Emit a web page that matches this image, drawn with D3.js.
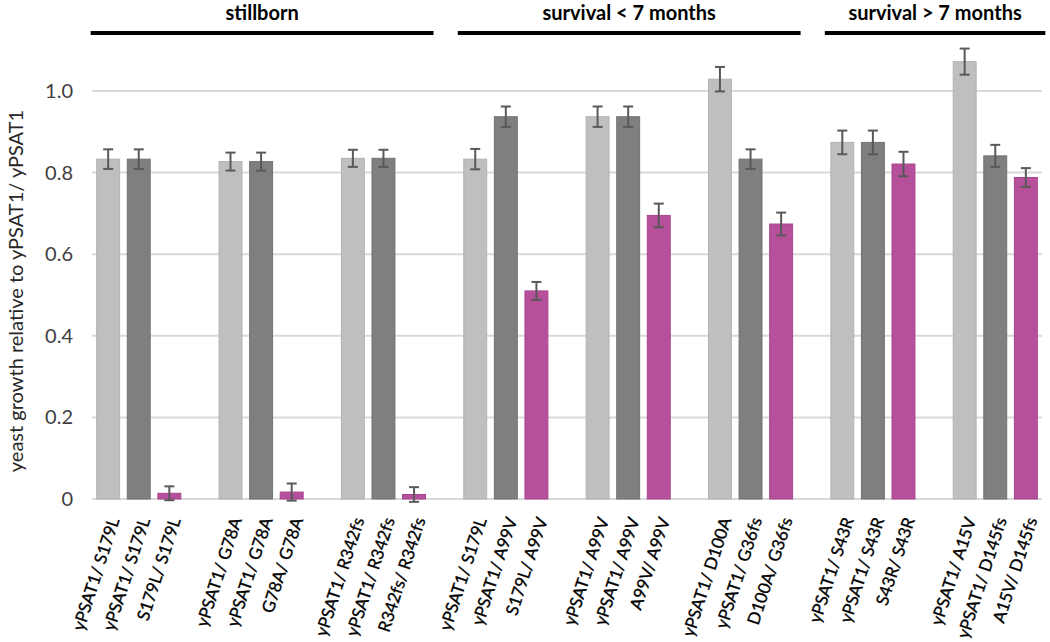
<!DOCTYPE html>
<html><head><meta charset="utf-8">
<script src="https://cdn.jsdelivr.net/npm/d3@7"></script>
<style>
body{margin:0;background:#fff;}
svg text{font-family:Lato,"Open Sans",sans-serif;}
</style></head>
<body><svg id="c" width="1050" height="642"></svg>
<script>
// ---- data ----
const labels = [
 "yPSAT1/ S179L","yPSAT1/ S179L","S179L/ S179L",
 "yPSAT1/ G78A","yPSAT1/ G78A","G78A/ G78A",
 "yPSAT1/ R342fs","yPSAT1/ R342fs","R342fs/ R342fs",
 "yPSAT1/ S179L","yPSAT1/ A99V","S179L/ A99V",
 "yPSAT1/ A99V","yPSAT1/ A99V","A99V/ A99V",
 "yPSAT1/ D100A","yPSAT1/ G36fs","D100A/ G36fs",
 "yPSAT1/ S43R","yPSAT1/ S43R","S43R/ S43R",
 "yPSAT1/ A15V","yPSAT1/ D145fs","A15V/ D145fs"
];
const values = [
 0.833,0.833,0.014,
 0.827,0.827,0.017,
 0.835,0.835,0.011,
 0.833,0.937,0.510,
 0.937,0.937,0.695,
 1.029,0.833,0.674,
 0.874,0.874,0.821,
 1.072,0.841,0.788
];
const errors = [
 0.024,0.024,0.017,
 0.022,0.022,0.021,
 0.021,0.021,0.018,
 0.025,0.025,0.022,
 0.025,0.025,0.029,
 0.030,0.024,0.028,
 0.029,0.029,0.030,
 0.032,0.027,0.023
];
const seriesIdx = [0,1,2]; // light, dark, magenta within each group
const groups = [
 {name:"stillborn", first:0, last:2},
 {name:"survival < 7 months", first:3, last:5},
 {name:"survival > 7 months", first:6, last:7}
];
const yTicks = [0,0.2,0.4,0.6,0.8,1.0];
const colors = ["#bfbfbf","#7f7f7f","#b7509b"];
const strokes = ["#b3b3b3","#737373","#a94590"];

// ---- layout ----
const svg = d3.select("#c");
const left = 92, right = 1042, y0 = 499, y1 = 91;
const slots = labels.map((d,i)=> Math.floor(i/3)*4 + (i%3));
const x = d3.scaleBand().domain(d3.range(31)).range([left,right]).paddingInner(0.25).paddingOuter(0.153);
const y = d3.scaleLinear().domain([0,1]).range([y0,y1]);
const bw = x.bandwidth();

// gridlines
svg.append("g").selectAll("line").data(yTicks).join("line")
  .attr("x1",left).attr("x2",right)
  .attr("y1",d=>y(d)).attr("y2",d=>y(d))
  .attr("stroke","#d9d9d9").attr("stroke-width",2);

// y axis labels
const yAxis = d3.axisLeft(y).tickValues(yTicks).tickSize(0).tickPadding(0)
  .tickFormat(d=> d===0 ? "0" : d3.format(".1f")(d));
const ga = svg.append("g").attr("transform",`translate(73,0)`).call(yAxis);
ga.select(".domain").remove();
ga.selectAll("text").attr("font-size",20).attr("fill","#404040")
  .style("font-family","Lato,'Open Sans',sans-serif");

// y axis title
svg.append("text")
  .attr("transform",`translate(23,${(y0+y1)/2-4}) rotate(-90)`)
  .attr("text-anchor","middle").attr("font-size",20).attr("fill","#262626")
  .text("yeast growth relative to yPSAT1/ yPSAT1");

// bars
svg.append("g").selectAll("rect").data(values).join("rect")
  .attr("x",(d,i)=>x(slots[i])).attr("width",bw)
  .attr("y",d=>y(d)).attr("height",d=>y0-y(d))
  .attr("fill",(d,i)=>colors[seriesIdx[i%3]])
  .attr("stroke",(d,i)=>strokes[seriesIdx[i%3]]).attr("stroke-width",1);

// error bars
const eg = svg.append("g").attr("stroke","#595959").attr("stroke-width",2);
values.forEach((v,i)=>{
  const cx = x(slots[i]) + bw/2, e = errors[i];
  eg.append("line").attr("x1",cx).attr("x2",cx).attr("y1",y(v+e)).attr("y2",y(v-e));
  eg.append("line").attr("x1",cx-5).attr("x2",cx+5).attr("y1",y(v+e)).attr("y2",y(v+e));
  eg.append("line").attr("x1",cx-5).attr("x2",cx+5).attr("y1",y(v-e)).attr("y2",y(v-e));
});

// x labels
svg.append("g").selectAll("text").data(labels).join("text")
  .attr("transform",(d,i)=>`translate(${x(slots[i])+bw/2+6},${y0+19}) rotate(-72)`)
  .attr("text-anchor","end").attr("dy","0.35em")
  .attr("font-size",17).attr("fill","#000").attr("stroke","#000").attr("stroke-width",0.3)
  .text(d=>d);

// group headers
groups.forEach(g=>{
  const xs = x(g.first*4) - 6, xe = x(g.last*4+2) + bw + 8;
  svg.append("line").attr("x1",xs).attr("x2",xe).attr("y1",33).attr("y2",33)
    .attr("stroke","#000").attr("stroke-width",4);
  svg.append("text").attr("x",(xs+xe)/2).attr("y",20).attr("text-anchor","middle")
    .attr("font-size",20).attr("font-weight","bold").attr("fill","#000").text(g.name);
});
</script></body></html>
